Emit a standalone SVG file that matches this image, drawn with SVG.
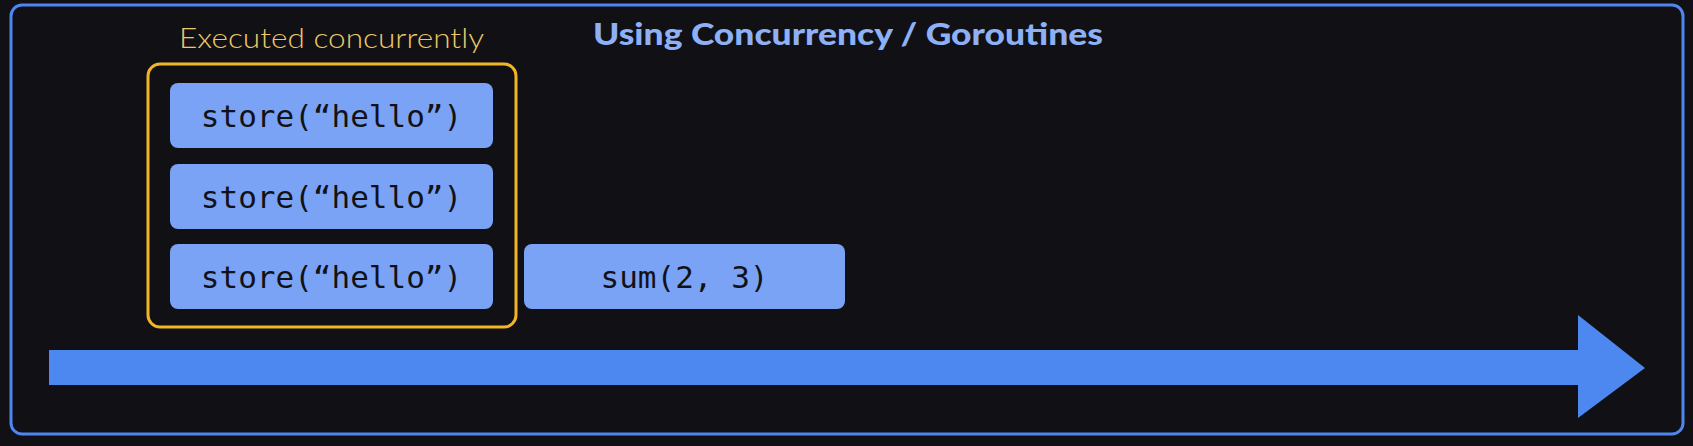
<svg xmlns="http://www.w3.org/2000/svg" width="1693" height="446" viewBox="0 0 1693 446">
<style>
.box{fill:#7ba3f5;}
.code{font-family:"DejaVu Sans Mono","Liberation Mono",monospace;font-size:31px;fill:#111116;text-anchor:middle;}
</style>
<rect x="0" y="0" width="1693" height="446" fill="#111014"/>
<rect id="frame" x="11" y="5" width="1672" height="429" rx="11" fill="none" stroke="#4f86f0" stroke-width="3"/>
<text id="title" x="593" y="45" font-family="Lato, 'Noto Sans', sans-serif" font-weight="900" font-size="31" fill="#8db0f6" textLength="510" lengthAdjust="spacingAndGlyphs">Using Concurrency / Goroutines</text>
<g id="group-concurrent">
<text x="179" y="48" font-family="Lato, 'Noto Sans', sans-serif" font-weight="300" font-size="28" fill="#ecc869" textLength="305" lengthAdjust="spacingAndGlyphs">Executed concurrently</text>
<rect x="148" y="64" width="368" height="263" rx="12" fill="none" stroke="#f2b526" stroke-width="3"/>
</g>
<g id="store1">
<rect class="box" x="170" y="83" width="323" height="65" rx="8"/>
<text class="code" x="331.5" y="127">store(“hello”)</text>
</g>
<g id="store2">
<rect class="box" x="170" y="164" width="323" height="65" rx="8"/>
<text class="code" x="331.5" y="208">store(“hello”)</text>
</g>
<g id="store3">
<rect class="box" x="170" y="244" width="323" height="65" rx="8"/>
<text class="code" x="331.5" y="288">store(“hello”)</text>
</g>
<g id="sum">
<rect class="box" x="524" y="244" width="321" height="65" rx="8"/>
<text class="code" x="684.5" y="288">sum(2, 3)</text>
</g>
<g id="connectors">
<polygon points="49,350 1578,350 1578,315 1645,368 1578,418 1578,385 49,385" fill="#4d88f0"/>
</g>
</svg>
